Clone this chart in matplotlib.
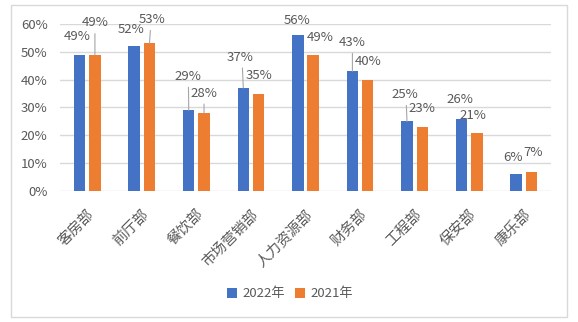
import matplotlib
matplotlib.use("Agg")
import matplotlib.pyplot as plt
from matplotlib.patches import Rectangle
import numpy as np

plt.rcParams['font.family'] = ['Noto Sans CJK SC', 'DejaVu Sans']

# Department survey shares by year
departments = ["客房部", "前厅部", "餐饮部", "市场营销部", "人力资源部", "财务部", "工程部", "保安部", "康乐部"]
share_2022 = [49, 52, 29, 37, 56, 43, 25, 26, 6]
share_2021 = [49, 53, 28, 35, 49, 40, 23, 21, 7]
series_names = ["2022年", "2021年"]
y_ticks = [0, 10, 20, 30, 40, 50, 60]

# Label placement (pixel offsets from bar top) and whether a leader line is drawn
label_off_2022 = [(-2, 18), (-3, 17), (-1, 34), (-3, 31), (-1, 15), (0, 29), (-2, 27), (-2, 19), (-3, 17)]
leader_2022 = [False, False, True, True, False, True, True, False, False]
label_off_2021 = [(0, 32), (3, 24), (0, 20), (0, 18), (7, 17), (0, 18), (0, 18), (-4, 17), (2, 19)]
leader_2021 = [True, True, True, False, False, False, False, False, False]

BLUE = "#4472C4"
ORANGE = "#ED7D31"
TEXT = "#595959"
GRID = "#D9D9D9"

W, H = 578, 322
fig = plt.figure(figsize=(W / 100, H / 100), dpi=100)
ax = fig.add_axes([60 / W, 1 - 191 / H, (551 - 60) / W, (191 - 24) / H])

x = np.arange(len(departments))
bw = 0.21
off = 0.14
b1 = ax.bar(x - off, share_2022, bw, color=BLUE, label=series_names[0], zorder=3)
b2 = ax.bar(x + off, share_2021, bw, color=ORANGE, label=series_names[1], zorder=3)

ax.set_xlim(-0.5, len(departments) - 0.5)
ax.set_ylim(0, 60)
ax.set_yticks(y_ticks)
ax.set_yticklabels([f"{t}%" for t in y_ticks])
ax.yaxis.grid(True, color=GRID, lw=1, zorder=0)
ax.set_axisbelow(True)
for s in ax.spines.values():
    s.set_visible(False)
ax.tick_params(axis='y', length=0, pad=9, labelsize=9.5, labelcolor=TEXT)
ax.set_xticks(x)
ax.set_xticklabels(departments, rotation=45, ha='right', va='top',
                   rotation_mode='anchor', fontsize=10.5, color=TEXT)
ax.tick_params(axis='x', length=0, pad=12)


def add_labels(xs, vals, offsets, leaders):
    for xi, v, (dx, dy), lead in zip(xs, vals, offsets, leaders):
        ax.annotate(f"{v:.0f}%", xy=(xi, v), xytext=(dx, dy), textcoords='offset pixels',
                    ha='center', va='center', fontsize=9.5, color=TEXT, zorder=5)
        if lead:
            ax.annotate('', xy=(xi, v), xytext=(dx * 0.3, dy - 11), textcoords='offset pixels',
                        arrowprops=dict(arrowstyle='-', color="#A6A6A6", lw=0.8,
                                        shrinkA=0, shrinkB=0), zorder=4)


add_labels(x - off, share_2022, label_off_2022, leader_2022)
add_labels(x + off, share_2021, label_off_2021, leader_2021)

fig.legend(handles=[b1, b2], labels=series_names, loc='center', bbox_to_anchor=(290 / W, 1 - 294 / H),
           ncol=2, frameon=False, fontsize=9.5, labelcolor=TEXT,
           handlelength=0.75, handleheight=0.75, handletextpad=0.4, columnspacing=0.8)

fig.patches.append(Rectangle((11 / W, 1 - 317 / H), (567 - 11) / W, (317 - 5) / H,
                             transform=fig.transFigure, fill=False, edgecolor=GRID, lw=1))

fig.savefig("out.png", dpi=100, facecolor="white")
